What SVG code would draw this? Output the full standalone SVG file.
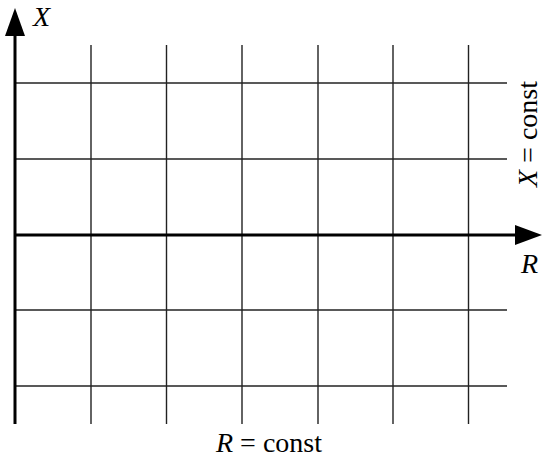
<svg xmlns="http://www.w3.org/2000/svg" width="543" height="458" viewBox="0 0 543 458">
<style>
.grid{stroke:#222;stroke-width:1.4;fill:none}
.axis{stroke:#000;stroke-width:3;fill:none}
.lbl{font-family:"Liberation Serif","Times New Roman",serif;font-size:28px;fill:#000}
.it{font-style:italic}
</style>
<rect width="543" height="458" fill="#fff"/>
<g id="grid" class="grid">
<line x1="91" y1="45" x2="91" y2="424"/>
<line x1="166.5" y1="45" x2="166.5" y2="424"/>
<line x1="242" y1="45" x2="242" y2="424"/>
<line x1="318" y1="45" x2="318" y2="424"/>
<line x1="393" y1="45" x2="393" y2="424"/>
<line x1="468.5" y1="45" x2="468.5" y2="424"/>
<line x1="15" y1="83" x2="507" y2="83"/>
<line x1="15" y1="159" x2="507" y2="159"/>
<line x1="15" y1="310" x2="507" y2="310"/>
<line x1="15" y1="386" x2="507" y2="386"/>
</g>
<g id="axes">
<line class="axis" x1="15" y1="424" x2="15" y2="30"/>
<polygon points="15,8 25,36 5,36" fill="#000"/>
<line class="axis" x1="15" y1="235" x2="520" y2="235"/>
<polygon points="542,235 515,225 515,245" fill="#000"/>
</g>
<g id="labels">
<text class="lbl it" x="33" y="26">X</text>
<text class="lbl it" x="521" y="273">R</text>
<text class="lbl" x="269" y="452" text-anchor="middle"><tspan class="it">R</tspan> = const</text>
<text class="lbl" transform="translate(537,134) rotate(-90)" text-anchor="middle"><tspan class="it">X</tspan> = const</text>
</g>
</svg>
